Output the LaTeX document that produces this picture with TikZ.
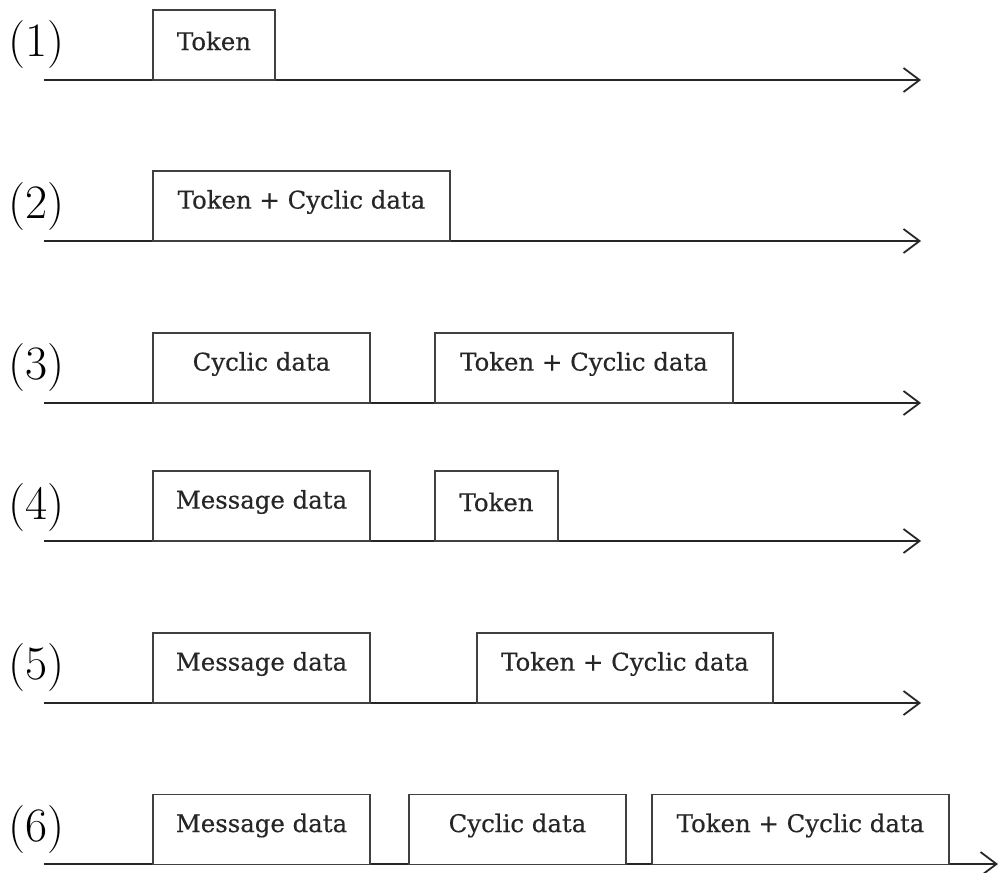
\documentclass[tikz,border=0pt]{standalone}
\usepackage{fontspec}
\newfontfamily\boxfont[FakeBold=0.4]{DejaVu Serif}
\usetikzlibrary{arrows.meta}
\begin{document}
\begin{tikzpicture}[x=0.5pt,y=-0.5pt,
 frame/.style={draw=black!75, line width=0.9pt, fill=white, inner sep=0pt, minimum height=35pt, font=\boxfont\fontsize{12.2}{14}\selectfont},
 boxtext/.style={inner sep=0pt, font=\boxfont\fontsize{12.2}{14}\selectfont, text=black!85},
 axis/.style={draw=black!85, line width=1pt, -{Straight Barb[length=8pt,width=12pt,line width=0.9pt]}},
 lbl/.style={font=\fontsize{24}{28}\selectfont, inner sep=0pt}]
\useasboundingbox (0,0) rectangle (999,872);
% row labels
\node[lbl] (l1) at (36.5,45) {(1)};
\node[lbl] (l2) at (36.5,207) {(2)};
\node[lbl] (l3) at (36.5,368) {(3)};
\node[lbl] (l4) at (36.5,508) {(4)};
\node[lbl] (l5) at (36.5,668) {(5)};
\node[lbl] (l6) at (36.5,830) {(6)};
% axes
\coordinate (s1) at (44,80);  \coordinate (e1) at (921,80);
\coordinate (s2) at (44,241); \coordinate (e2) at (921,241);
\coordinate (s3) at (44,403); \coordinate (e3) at (921,403);
\coordinate (s4) at (44,541); \coordinate (e4) at (921,541);
\coordinate (s5) at (44,703); \coordinate (e5) at (921,703);
\coordinate (s6) at (44,864); \coordinate (e6) at (998,864);
\foreach \i in {1,...,6} \draw[axis] (s\i) -- (e\i);
% boxes (frame) with label slightly above centre
\node[frame, minimum width=61pt] (b1a) at (214,45) {};
\node[boxtext] at ([yshift=2pt]b1a.center) {Token};
\node[frame, minimum width=148.5pt] (b2a) at (301.5,206) {};
\node[boxtext] at ([yshift=2pt]b2a.center) {Token + Cyclic data};
\node[frame, minimum width=108.5pt] (b3a) at (261.5,368) {};
\node[boxtext] at ([yshift=2pt]b3a.center) {Cyclic data};
\node[frame, minimum width=149pt] (b3b) at (584,368) {};
\node[boxtext] at ([yshift=2pt]b3b.center) {Token + Cyclic data};
\node[frame, minimum width=108.5pt] (b4a) at (261.5,506) {};
\node[boxtext] at ([yshift=2pt]b4a.center) {Message data};
\node[frame, minimum width=61.5pt] (b4b) at (496.5,506) {};
\node[boxtext] at ([yshift=2pt]b4b.center) {Token};
\node[frame, minimum width=108.5pt] (b5a) at (261.5,668) {};
\node[boxtext] at ([yshift=2pt]b5a.center) {Message data};
\node[frame, minimum width=148pt] (b5b) at (625,668) {};
\node[boxtext] at ([yshift=2pt]b5b.center) {Token + Cyclic data};
\node[frame, minimum width=108.5pt] (b6a) at (261.5,829.5) {};
\node[boxtext] at ([yshift=2pt]b6a.center) {Message data};
\node[frame, minimum width=108.5pt] (b6b) at (517.5,829.5) {};
\node[boxtext] at ([yshift=2pt]b6b.center) {Cyclic data};
\node[frame, minimum width=148.5pt] (b6c) at (800.5,829.5) {};
\node[boxtext] at ([yshift=2pt]b6c.center) {Token + Cyclic data};
\end{tikzpicture}
\end{document}
